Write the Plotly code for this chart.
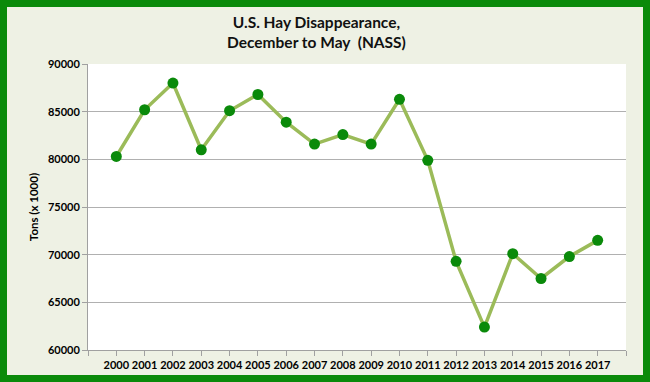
import plotly.graph_objects as go

years = list(range(2000, 2018))
tons = [80300, 85200, 88000, 81000, 85100, 86800, 83900, 81600, 82600, 81600,
        86300, 79900, 69300, 62400, 70100, 67500, 69800, 71500]
y_ticks = [60000, 65000, 70000, 75000, 80000, 85000, 90000]
title_text = "U.S. Hay Disappearance,<br>December to May  (NASS)"
y_title = "Tons (x 1000)"

L, R, T, B = 88, 24, 64, 32
W, H = 650, 382
pw, ph = W - L - R, H - T - B

def px(x):
    return (x - L) / pw

def py(y):
    return (H - B - y) / ph

fig = go.Figure()
fig.add_trace(go.Scatter(
    x=years, y=tons, mode="lines+markers",
    line=dict(color="#9bbb59", width=3.5),
    marker=dict(color="#0a8a0a", size=11, line=dict(width=0)),
    cliponaxis=False,
))

fig.add_annotation(
    text="<b>" + title_text + "</b>", xref="paper", yref="paper",
    x=px(316), y=py(32.5), xanchor="center", yanchor="middle",
    showarrow=False, align="center",
    font=dict(size=15.5, family="Lato", color="#111"),
)

fig.update_layout(
    width=W, height=H,
    margin=dict(l=L, r=R, t=T, b=B, autoexpand=False),
    paper_bgcolor="#eef1e4",
    plot_bgcolor="white",
    showlegend=False,
    font=dict(family="Lato", color="black"),
    xaxis=dict(
        range=[1999, 2018], tickmode="array",
        tickvals=list(range(1999, 2019)),
        ticktext=[""] + [str(y) for y in years] + [""],
        tickangle=0, automargin=False,
        ticks="outside", ticklen=5, tickcolor="#a0a0a0",
        showgrid=False, showline=True, linecolor="#a0a0a0", linewidth=1,
        tickfont=dict(size=11, family="Lato", color="black", weight="bold"),
        zeroline=False, fixedrange=True,
    ),
    yaxis=dict(
        range=[60000, 90000], tickmode="array", tickvals=y_ticks,
        ticktext=[str(v) for v in y_ticks], automargin=False,
        ticks="outside", ticklen=5, tickcolor="#a0a0a0",
        showgrid=True, gridcolor="#b0b0b0", gridwidth=1,
        showline=True, linecolor="#a0a0a0", linewidth=1,
        tickfont=dict(size=11, family="Lato", color="black", weight="bold"),
        title=dict(text="<b>" + y_title + "</b>", standoff=6,
                   font=dict(size=11.5, family="Lato", color="black")),
        zeroline=False, fixedrange=True,
    ),
    shapes=[dict(
        type="rect", xref="paper", yref="paper",
        x0=px(3.5), x1=px(W - 3.5), y0=py(H - 3.5), y1=py(3.5),
        line=dict(color="#0a8a0a", width=7), fillcolor="rgba(0,0,0,0)",
        layer="above",
    )],
)

fig.write_html("out.html", config={"displayModeBar": False},
               post_script="document.body.style.margin='0';document.body.style.overflow='hidden';")
